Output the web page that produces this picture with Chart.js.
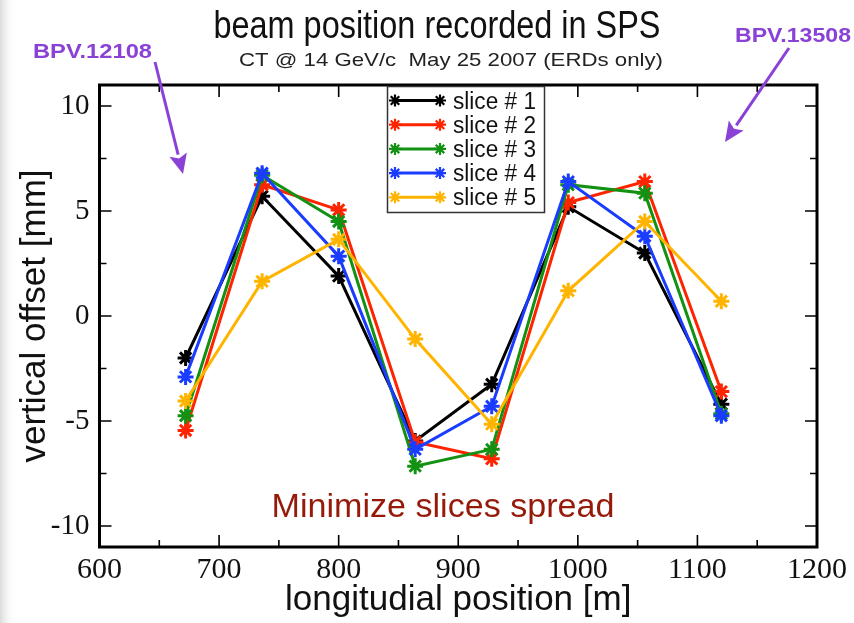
<!DOCTYPE html>
<html>
<head>
<meta charset="utf-8">
<script src="https://cdn.jsdelivr.net/npm/chart.js@4.4.1/dist/chart.umd.min.js"></script>
<style>
  html, body { margin: 0; padding: 0; background: #ffffff; }
  #wrap { width: 854px; height: 623px; }
</style>
</head>
<body>
<div id="wrap"><canvas id="chart" width="854" height="623"></canvas></div>
<script>
// BPM locations along the line [m]
const positions = [672, 736, 800, 864, 928, 992, 1056, 1120];

// vertical offset per slice [mm]
const slice1 = [-2.0, 5.7, 1.9, -5.95, -3.25, 5.2, 3.0, -4.2];
const slice2 = [-5.45, 6.25, 5.05, -6.0, -6.8, 5.4, 6.4, -3.6];
const slice3 = [-4.75, 6.7, 4.5, -7.15, -6.35, 6.25, 5.85, -4.65];
const slice4 = [-2.9, 6.8, 2.85, -6.35, -4.3, 6.4, 3.8, -4.75];
const slice5 = [-4.05, 1.65, 3.65, -1.1, -5.15, 1.2, 4.5, 0.7];

const sliceLabels = ['slice # 1', 'slice # 2', 'slice # 3', 'slice # 4', 'slice # 5'];
const sliceColors = ['#000000', '#ff2400', '#129112', '#1a3cff', '#ffb400'];

// axis ticks
const xTicks = [600, 700, 800, 900, 1000, 1100, 1200];
const xMinorTicks = [650, 750, 850, 950, 1050, 1150];
const yTicks = [-10, -5, 0, 5, 10];
const yMinorTicks = [-7.5, -2.5, 2.5, 7.5];

const allSlices = [slice1, slice2, slice3, slice4, slice5];

const datasets = allSlices.map((vals, i) => ({
  label: sliceLabels[i],
  data: positions.map((x, j) => ({ x: x, y: vals[j] })),
  borderColor: sliceColors[i],
  backgroundColor: sliceColors[i],
  borderWidth: 3,
  pointStyle: 'star',
  pointRadius: 8,
  pointBorderWidth: 3,
  pointBorderColor: sliceColors[i],
  tension: 0,
  order: allSlices.length - i
}));

const PURPLE = '#8a42d6';

function fittedText(ctx, text, x, y, font, color, width, align) {
  ctx.save();
  ctx.font = font;
  ctx.fillStyle = color;
  ctx.textBaseline = 'alphabetic';
  const w = ctx.measureText(text).width;
  const sx = width ? width / w : 1;
  let left = x;
  if (align === 'center') left = x - (w * sx) / 2;
  ctx.translate(left, y);
  ctx.scale(sx, 1);
  ctx.textAlign = 'left';
  ctx.fillText(text, 0, 0);
  ctx.restore();
}

function arrow(ctx, x0, y0, x1, y1, color) {
  const ang = Math.atan2(y1 - y0, x1 - x0);
  const head = 20, half = 9;
  const bx = x1 - head * Math.cos(ang), by = y1 - head * Math.sin(ang);
  ctx.save();
  ctx.strokeStyle = color;
  ctx.fillStyle = color;
  ctx.lineWidth = 3;
  ctx.beginPath();
  ctx.moveTo(x0, y0);
  ctx.lineTo(bx, by);
  ctx.stroke();
  ctx.beginPath();
  ctx.moveTo(x1, y1);
  ctx.lineTo(bx + half * Math.sin(ang), by - half * Math.cos(ang));
  ctx.lineTo(bx + 4 * Math.cos(ang), by + 4 * Math.sin(ang));
  ctx.lineTo(bx - half * Math.sin(ang), by + half * Math.cos(ang));
  ctx.closePath();
  ctx.fill();
  ctx.restore();
}

function star(ctx, x, y, r, color) {
  ctx.save();
  ctx.strokeStyle = color;
  ctx.lineWidth = 2.2;
  ctx.beginPath();
  for (let k = 0; k < 4; k++) {
    const a = k * Math.PI / 4;
    ctx.moveTo(x - r * Math.cos(a), y - r * Math.sin(a));
    ctx.lineTo(x + r * Math.cos(a), y + r * Math.sin(a));
  }
  ctx.stroke();
  ctx.restore();
}

const decorations = {
  id: 'decorations',
  beforeDraw(chart) {
    const ctx = chart.ctx;
    ctx.save();
    ctx.fillStyle = '#ffffff';
    ctx.fillRect(0, 0, chart.width, chart.height);
    const g = ctx.createLinearGradient(0, 0, 16, 0);
    g.addColorStop(0, 'rgba(215,215,215,0.9)');
    g.addColorStop(1, 'rgba(255,255,255,0)');
    ctx.fillStyle = g;
    ctx.fillRect(0, 0, 16, chart.height);
    ctx.restore();
  },
  afterDraw(chart) {
    const ctx = chart.ctx;
    const xs = chart.scales.x, ys = chart.scales.y;
    const a = chart.chartArea;

    // frame with inward ticks on all four sides
    ctx.save();
    ctx.strokeStyle = '#000';
    ctx.lineWidth = 1.6;
    ctx.beginPath();
    xTicks.forEach(v => {
      const px = xs.getPixelForValue(v);
      ctx.moveTo(px, a.bottom); ctx.lineTo(px, a.bottom - 12);
      ctx.moveTo(px, a.top); ctx.lineTo(px, a.top + 12);
    });
    xMinorTicks.forEach(v => {
      const px = xs.getPixelForValue(v);
      ctx.moveTo(px, a.bottom); ctx.lineTo(px, a.bottom - 7);
      ctx.moveTo(px, a.top); ctx.lineTo(px, a.top + 7);
    });
    yTicks.forEach(v => {
      const py = ys.getPixelForValue(v);
      ctx.moveTo(a.left, py); ctx.lineTo(a.left + 12, py);
      ctx.moveTo(a.right, py); ctx.lineTo(a.right - 12, py);
    });
    yMinorTicks.forEach(v => {
      const py = ys.getPixelForValue(v);
      ctx.moveTo(a.left, py); ctx.lineTo(a.left + 7, py);
      ctx.moveTo(a.right, py); ctx.lineTo(a.right - 7, py);
    });
    ctx.stroke();
    ctx.lineWidth = 3;
    ctx.strokeRect(a.left, a.top, a.right - a.left, a.bottom - a.top);
    ctx.restore();

    // legend box
    const lx = 387.5, ly = 86.5, lw = 157, lh = 126;
    ctx.save();
    ctx.fillStyle = '#ffffff';
    ctx.fillRect(lx, ly, lw, lh);
    ctx.strokeStyle = '#333333';
    ctx.lineWidth = 1.5;
    ctx.strokeRect(lx, ly, lw, lh);
    chart.data.datasets.forEach((ds, i) => {
      const cy = 100.5 + i * 24.2;
      ctx.strokeStyle = ds.borderColor;
      ctx.lineWidth = 3;
      ctx.beginPath();
      ctx.moveTo(395, cy); ctx.lineTo(440, cy);
      ctx.stroke();
      star(ctx, 395, cy, 6, ds.borderColor);
      star(ctx, 440, cy, 6, ds.borderColor);
      fittedText(ctx, ds.label, 453, cy + 8, '23px "Liberation Sans", Arial, sans-serif', '#111111', 83, 'left');
    });
    ctx.restore();

    // headings
    fittedText(ctx, 'beam position recorded in SPS', 437, 38, '38px "Liberation Sans", Arial, sans-serif', '#111111', 447, 'center');
    fittedText(ctx, 'CT @ 14 GeV/c  May 25 2007 (ERDs only)', 451, 66, '19px "Liberation Sans", Arial, sans-serif', '#222222', 424, 'center');

    // BPM markers
    fittedText(ctx, 'BPV.12108', 33, 58, 'bold 21px "Liberation Sans", Arial, sans-serif', PURPLE, 119, 'left');
    fittedText(ctx, 'BPV.13508', 735, 42, 'bold 21px "Liberation Sans", Arial, sans-serif', PURPLE, 116, 'left');
    arrow(ctx, 155, 62, 183, 174, PURPLE);
    arrow(ctx, 789, 48, 725, 142, PURPLE);

    // note
    fittedText(ctx, 'Minimize slices spread', 443, 517, '34px "Liberation Sans", Arial, sans-serif', '#961a0a', 343, 'center');
  }
};

new Chart(document.getElementById('chart'), {
  type: 'line',
  data: { datasets: datasets },
  options: {
    responsive: false,
    animation: false,
    devicePixelRatio: 1,
    layout: { padding: { top: 85, right: 37, left: 0, bottom: 0 } },
    plugins: {
      legend: { display: false },
      title: { display: false },
      tooltip: { enabled: false }
    },
    scales: {
      x: {
        type: 'linear',
        min: 600,
        max: 1200,
        afterBuildTicks: s => { s.ticks = xTicks.map(v => ({ value: v })); },
        afterFit: s => { s.height = 76; },
        grid: { display: false, drawTicks: false },
        border: { display: false },
        ticks: {
          padding: 5,
          color: '#111111',
          callback: v => String(v),
          font: { family: '"Liberation Serif", "Times New Roman", serif', size: 30 }
        },
        title: {
          display: true,
          text: 'longitudial position [m]',
          color: '#111111',
          padding: { top: 0, bottom: 2 },
          font: { family: '"Liberation Sans", Arial, sans-serif', size: 35 }
        }
      },
      y: {
        type: 'linear',
        min: -11,
        max: 11,
        afterBuildTicks: s => { s.ticks = yTicks.map(v => ({ value: v })); },
        afterFit: s => { s.width = 99.5; },
        grid: { display: false, drawTicks: false },
        border: { display: false },
        ticks: {
          padding: 10,
          color: '#111111',
          callback: v => String(v),
          font: { family: '"Liberation Serif", "Times New Roman", serif', size: 29 }
        },
        title: {
          display: true,
          text: 'vertical offset [mm]',
          color: '#111111',
          padding: { top: 14, bottom: 0 },
          font: { family: '"Liberation Sans", Arial, sans-serif', size: 35 }
        }
      }
    }
  },
  plugins: [decorations]
});
</script>
</body>
</html>
